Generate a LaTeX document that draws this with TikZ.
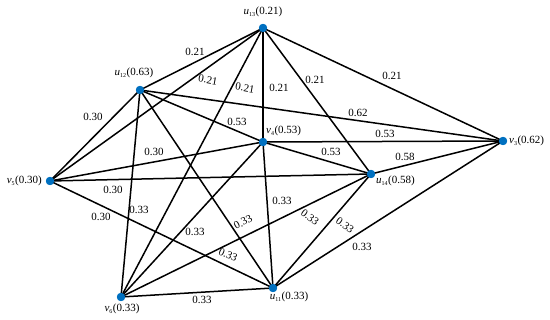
\documentclass[tikz,border=0pt]{standalone}
\usepackage{fontspec}
\setmainfont{Liberation Serif}
\definecolor{dotblue}{RGB}{0,112,192}
\newcommand{\vlab}[3]{\textit{#1}\textsubscript{\fontsize{6}{6}\selectfont #2}(#3)}
\begin{document}
\begin{tikzpicture}[x=1pt,y=-1pt,
  vert/.style={circle,fill=dotblue,inner sep=0pt,minimum size=8pt},
  edge/.style={line width=1.5pt,black},
  wl/.style={font=\fontsize{11}{13}\selectfont,inner sep=0pt},
  nl/.style={font=\fontsize{11}{13}\selectfont,inner sep=0pt}]
\useasboundingbox (0,0) rectangle (550,320);
% vertices
\node[vert] (u13) at (263,28) {};
\node[vert] (u12) at (140,90) {};
\node[vert] (v4)  at (263,142) {};
\node[vert] (v3)  at (503,141) {};
\node[vert] (v5)  at (50,181) {};
\node[vert] (u14) at (371,174) {};
\node[vert] (v6)  at (121,297) {};
\node[vert] (u11) at (273,288) {};
% edges
\draw[edge] (u13.center) -- (u12.center);
\draw[edge] (u13.center) -- (v5.center);
\draw[edge] (u13.center) -- (v6.center);
\draw[edge] (u13.center) -- (v4.center);
\draw[edge] (u13.center) -- (u14.center);
\draw[edge] (u13.center) -- (v3.center);
\draw[edge] (u12.center) -- (v5.center);
\draw[edge] (u12.center) -- (v6.center);
\draw[edge] (u12.center) -- (u11.center);
\draw[edge] (u12.center) -- (v4.center);
\draw[edge] (u12.center) -- (v3.center);
\draw[edge] (v4.center) -- (v5.center);
\draw[edge] (v4.center) -- (v6.center);
\draw[edge] (v4.center) -- (u11.center);
\draw[edge] (v4.center) -- (v3.center);
\draw[edge] (v4.center) -- (u14.center);
\draw[edge] (v5.center) -- (u14.center);
\draw[edge] (v5.center) -- (u11.center);
\draw[edge] (v6.center) -- (u14.center);
\draw[edge] (v6.center) -- (u11.center);
\draw[edge] (u11.center) -- (u14.center);
\draw[edge] (u11.center) -- (v3.center);
\draw[edge] (u14.center) -- (v3.center);
% redraw dots on top
\foreach \n in {u13,u12,v4,v3,v5,u14,v6,u11}{\fill[dotblue] (\n) circle (4.2pt);}
% vertex labels
\node[nl] (lu13) at (263,12) {\vlab{u}{13}{0.21}};
\node[nl] (lu12) at (134,73) {\vlab{u}{12}{0.63}};
\node[nl,anchor=west] (lv4) at (266,131) {\vlab{v}{4}{0.53}};
\node[nl,anchor=west] (lv3) at (509,141) {\vlab{v}{3}{0.62}};
\node[nl,anchor=east] (lv5) at (42,181) {\vlab{v}{5}{0.30}};
\node[nl,anchor=west] (lu14) at (376,181) {\vlab{u}{14}{0.58}};
\node[nl] (lv6) at (122,309) {\vlab{v}{6}{0.33}};
\node[nl] (lu11) at (289,297) {\vlab{u}{11}{0.33}};
% edge weights
\node[wl] at (195,52) {0.21};
\node[wl,rotate=-10] at (208,80) {0.21};
\node[wl,rotate=-10] at (245,88) {0.21};
\node[wl] at (279,88) {0.21};
\node[wl] at (315,80) {0.21};
\node[wl] at (392,76) {0.21};
\node[wl] at (93,117) {0.30};
\node[wl] at (237,122) {0.53};
\node[wl] at (154,152) {0.30};
\node[wl] at (358,113) {0.62};
\node[wl] at (385,134) {0.53};
\node[wl] at (331,152) {0.53};
\node[wl] at (405,157) {0.58};
\node[wl] at (113,190) {0.30};
\node[wl] at (101,217) {0.30};
\node[wl] at (139,210) {0.33};
\node[wl] at (195,232) {0.33};
\node[wl,rotate=28] at (243,222) {0.33};
\node[wl,rotate=-24] at (228,255) {0.33};
\node[wl] at (202,300) {0.33};
\node[wl] at (282,201) {0.33};
\node[wl,rotate=-37] at (310,217) {0.33};
\node[wl,rotate=-36] at (345,225) {0.33};
\node[wl] at (362,247) {0.33};
\end{tikzpicture}
\end{document}
